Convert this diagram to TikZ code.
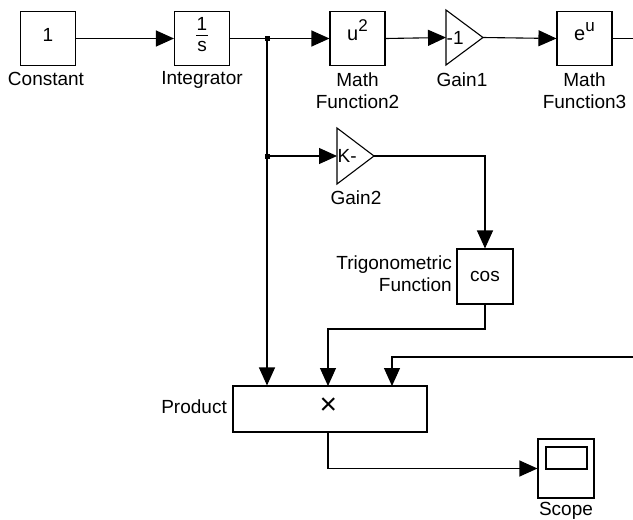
\documentclass[tikz,border=0pt]{standalone}
\usepackage{fontspec}
\setmainfont{Liberation Sans}
\usetikzlibrary{arrows.meta,calc}
\newcommand{\supfont}{\fontsize{17}{17}\selectfont}
\begin{document}
\begin{tikzpicture}[x=1pt,y=-1pt,
  every node/.style={font=\fontsize{19}{22}\selectfont, inner sep=0pt},
  blk/.style={draw, line width=1.1pt, minimum width=55pt, minimum height=54pt, anchor=center},
  lbl/.style={align=center},
  wire/.style={line width=1.1pt},
  sig/.style={wire, -{Triangle[length=18pt,width=16pt]}},
  tri/.style={draw, line width=1.1pt, line join=miter},
  dot/.style={fill=black, minimum size=5pt, inner sep=0pt, rectangle}
]
\useasboundingbox (0,0) rectangle (633,520);

% blocks
\node[blk] (const) at (48,38.5) {};
\node at (48,35) {1};
\node[lbl] (constl) at (46,79) {Constant};

\node[blk] (integ) at (202,38.5) {};
\node (integn) at (202,24) {1};
\draw[line width=0.8pt] (196,35) -- (208,35);
\node (integd) at (202,46) {s};
\node[lbl] (integl) at (202,80) {Integrator};

\node[blk] (mf2) at (357.5,38.5) {};
\node[anchor=base] (mf2t) at (357.5,40.5) {\fontsize{20}{20}\selectfont u\raisebox{9.5pt}{\supfont 2}};
\node[lbl] (mf2l) at (357.5,91) {Math\\Function2};

% gain1 triangle
\coordinate (g1in) at (446,37.5);
\coordinate (g1out) at (483,37.5);
\draw[tri] (446,10) -- (446,65) -- (g1out) -- cycle;
\node[anchor=west] (g1t) at (446.5,38) {-1};
\node[lbl] (g1l) at (462,80) {Gain1};

\node[blk] (mf3) at (584.5,38.5) {};
\node[anchor=base] (mf3t) at (584.5,40.5) {\fontsize{20}{20}\selectfont e\raisebox{9.5pt}{\supfont u}};
\node[lbl] (mf3l) at (584.5,91) {Math\\Function3};
\coordinate (mf3end) at (634,38.5);

% gain2 triangle
\coordinate (g2in) at (337,156);
\coordinate (g2out) at (374,156);
\draw[tri] (337,128) -- (337,184) -- (g2out) -- cycle;
\node[anchor=west] (g2t) at (337.5,156) {K-};
\node[lbl] (g2l) at (356,198) {Gain2};

% trig
\node[blk, minimum width=56pt, minimum height=55pt] (trig) at (485,276.5) {cos};
\node[align=right, anchor=east] (trigl) at (452,273.5) {Trigonometric\\Function};

% product
\node[draw, line width=1.1pt, minimum width=194pt, minimum height=46pt] (prod) at (330,409) {};
\node (prodx) at (328.5,406.5) {\fontsize{30}{30}\selectfont ×};
\node[anchor=east] (prodl) at (227,407) {Product};

% scope
\node[blk, minimum width=56pt, minimum height=59pt] (scope) at (566,468.5) {};
\draw[line width=1.1pt] (546,447) rectangle (587,469);
\node[lbl] (scopel) at (566,511) {Scope};

% junctions
\coordinate (b1) at (267,38.5);
\coordinate (b2) at (267,156);
\coordinate (ext3) at (634,357);

% wires
\draw[sig] (const.east) -- (integ.west);
\draw[sig] (integ.east) -- (mf2.west);
\draw[sig] (mf2.east) -- (g1in);
\draw[sig] (g1out) -- (mf3.west);
\draw[wire] (mf3.east) -- (mf3end);
\draw[sig] (b1) -- (b1 |- prod.north);
\draw[sig] (b2) -- (g2in);
\draw[sig] (g2out) -| (trig.north);
\draw[sig] (trig.south) |- (328,329) -- (328,386);
\draw[sig] (ext3) -| (392,386);
\draw[sig] (328,432) |- (scope.west);

\node[dot] (d1) at (b1) {};
\node[dot] (d2) at (b2) {};
\end{tikzpicture}
\end{document}
